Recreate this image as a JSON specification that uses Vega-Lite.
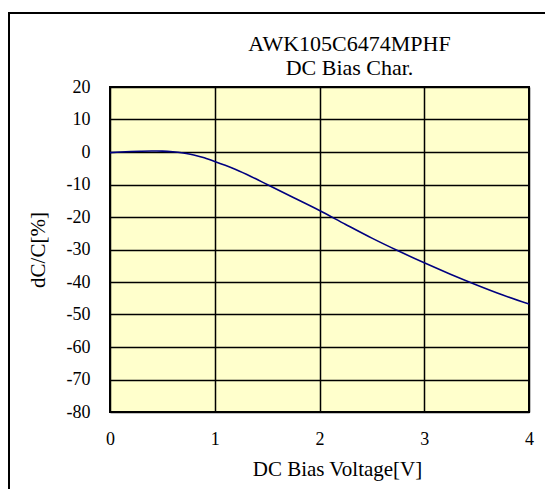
{
  "$schema": "https://vega.github.io/schema/vega-lite/v6.json",
  "width": 419,
  "height": 325,
  "autosize": "none",
  "padding": {"left": 110, "top": 87, "right": 16, "bottom": 77},
  "background": "white",
  "title": {
    "text": ["AWK105C6474MPHF", "DC Bias Char."],
    "font": "Liberation Serif",
    "fontSize": 22,
    "fontWeight": "normal",
    "color": "black",
    "anchor": "middle",
    "dx": 30,
    "dy": 90,
    "offset": 0,
    "baseline": "bottom",
    "lineHeight": 24
  },
  "config": {
    "view": {"fill": "#FFFFCC", "stroke": "black", "strokeWidth": 2},
    "font": "Liberation Serif"
  },
  "layer": [
    {
      "data": {"values": [{"frame": 1}]},
      "mark": {"type": "rect", "filled": false, "stroke": "black", "strokeWidth": 2, "clip": false},
      "encoding": {
        "x": {"value": -101},
        "y": {"value": -74},
        "x2": {"value": 600},
        "y2": {"value": 600}
      }
    },
    {
      "data": {
        "values": [
          {"V": 0.0, "dC": -0.2},
          {"V": 0.1, "dC": 0.0},
          {"V": 0.2, "dC": 0.15},
          {"V": 0.3, "dC": 0.25},
          {"V": 0.4, "dC": 0.3},
          {"V": 0.5, "dC": 0.28},
          {"V": 0.6, "dC": 0.1},
          {"V": 0.7, "dC": -0.3},
          {"V": 0.8, "dC": -0.9},
          {"V": 0.9, "dC": -1.8},
          {"V": 1.0, "dC": -2.9},
          {"V": 1.1, "dC": -4.1},
          {"V": 1.2, "dC": -5.4},
          {"V": 1.35, "dC": -7.6},
          {"V": 1.5, "dC": -10.0},
          {"V": 1.75, "dC": -14.0},
          {"V": 2.0, "dC": -18.0},
          {"V": 2.25, "dC": -22.3},
          {"V": 2.5, "dC": -26.5},
          {"V": 2.75, "dC": -30.4},
          {"V": 3.0, "dC": -34.1},
          {"V": 3.25, "dC": -37.6},
          {"V": 3.5, "dC": -40.9},
          {"V": 3.75, "dC": -44.0},
          {"V": 4.0, "dC": -46.8}
        ]
      },
      "mark": {"type": "line", "color": "#000080", "strokeWidth": 1.6, "interpolate": "monotone"},
      "encoding": {
        "x": {
          "field": "V",
          "type": "quantitative",
          "scale": {"domain": [0, 4], "nice": false},
          "axis": {
            "values": [0, 1, 2, 3, 4],
            "labelExpr": "'' + datum.value",
            "domain": false,
            "ticks": false,
            "tickSize": 0,
            "labelPadding": 18,
            "labelFlush": false,
            "labelOverlap": false,
            "labelFont": "Liberation Serif",
            "labelFontSize": 18,
            "labelColor": "black",
            "grid": true,
            "gridColor": "black",
            "gridWidth": 1.5,
            "gridOpacity": 1,
            "title": "DC Bias Voltage[V]",
            "titleFont": "Liberation Serif",
            "titleFontSize": 21,
            "titleFontWeight": "normal",
            "titleColor": "black",
            "titleX": 227,
            "titleY": 63,
            "titleAlign": "center",
            "titleBaseline": "alphabetic"
          }
        },
        "y": {
          "field": "dC",
          "type": "quantitative",
          "scale": {"domain": [-80, 20], "nice": false},
          "axis": {
            "values": [-80, -70, -60, -50, -40, -30, -20, -10, 0, 10, 20],
            "labelExpr": "'' + datum.value",
            "domain": false,
            "ticks": false,
            "tickSize": 0,
            "labelPadding": 20,
            "labelFlush": false,
            "labelOverlap": false,
            "labelFont": "Liberation Serif",
            "labelFontSize": 18,
            "labelColor": "black",
            "grid": true,
            "gridColor": "black",
            "gridWidth": 1.5,
            "gridOpacity": 1,
            "title": "dC/C[%]",
            "titleFont": "Liberation Serif",
            "titleFontSize": 21,
            "titleFontWeight": "normal",
            "titleColor": "black",
            "titleAngle": -90,
            "titleX": -66,
            "titleY": 162.5,
            "titleAlign": "center",
            "titleBaseline": "alphabetic"
          }
        }
      }
    }
  ]
}
